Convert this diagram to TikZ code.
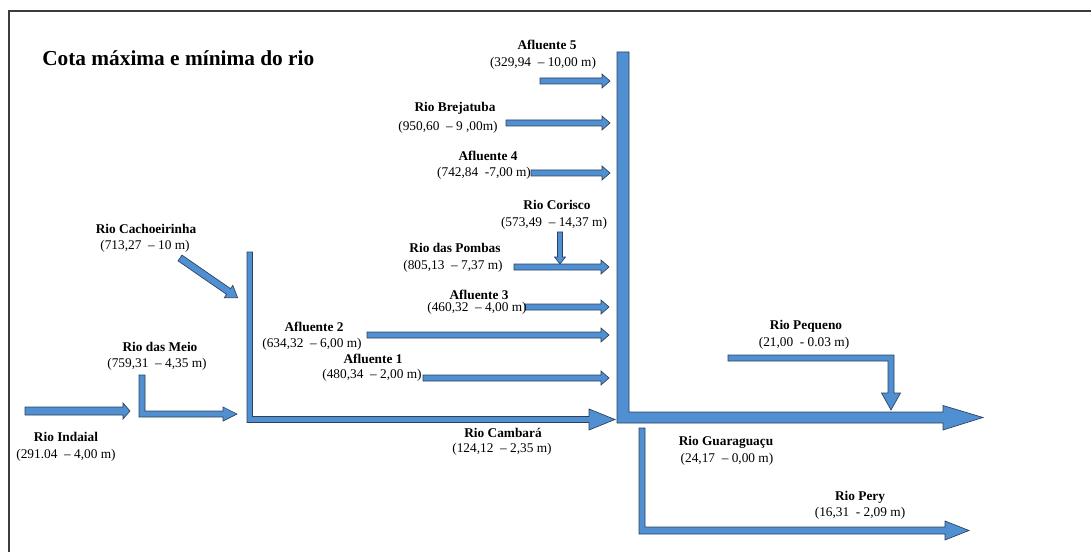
\documentclass[tikz,border=0pt]{standalone}
\usepackage{fontspec}
\setmainfont{Liberation Serif}
\definecolor{rivfill}{RGB}{79,143,210}
\definecolor{rivline}{RGB}{45,65,90}
\definecolor{framec}{RGB}{60,60,60}
\tikzset{
  riv/.style={fill=rivfill, draw=rivline, line width=0.5pt, line join=miter},
  nm/.style={font=\fontsize{10}{12}\selectfont\bfseries, inner sep=0pt},
  val/.style={font=\fontsize{10}{12}\selectfont, inner sep=0pt},
  ttl/.style={font=\fontsize{16}{19}\selectfont\bfseries, inner sep=0pt, anchor=west},
}
\newcommand{\hblock}[6]{%
  \filldraw[riv] ({#1},{#3-#4}) -- ({#2-#6},{#3-#4}) -- ({#2-#6},{#3-#5}) -- ({#2},{#3}) -- ({#2-#6},{#3+#5}) -- ({#2-#6},{#3+#4}) -- ({#1},{#3+#4}) -- cycle;}
\begin{document}
\begin{tikzpicture}[x=0.75pt,y=-0.75pt]
\useasboundingbox (0,0) rectangle (1091,552);
% frame (only left and top edges visible)
\draw[framec, line width=1.5pt] (9,552) -- (9,11) -- (1091,11);

% title
\node[ttl] (title) at (42,58) {Cota máxima e mínima do rio};

% main river (big L)
\filldraw[riv] (617,52) -- (629,52) -- (629,412) -- (943,412) -- (943,405.5) -- (983,417.5) -- (943,430) -- (943,423) -- (617,423) -- cycle;

% Rio Cambara L
\filldraw[riv] (247,252) -- (252.5,252) -- (252.5,416.5) -- (589,416.5) -- (589,409) -- (615,419.5) -- (589,430) -- (589,422.5) -- (247,422.5) -- cycle;

% Rio das Meio L
\filldraw[riv] (139,375) -- (145,375) -- (145,411) -- (223,411) -- (223,407) -- (237,414) -- (223,421) -- (223,417) -- (139,417) -- cycle;

% Rio Indaial
\hblock{25}{130}{411}{4}{8}{7}

% Rio Cachoeirinha diagonal
\begin{scope}[shift={(180,258)}, rotate=-34.6]
\hblock{0}{70}{0}{3.5}{7.5}{11}
\end{scope}

% tributaries of main river
\hblock{540}{610}{81}{3}{7}{8}
\hblock{506}{610}{123}{3}{7}{8}
\hblock{531}{610}{173}{3}{7}{8}
\hblock{514}{609}{267}{3}{7}{8}
\hblock{525}{609}{307}{3}{7}{8}
\hblock{367}{609}{335}{3}{7}{8}
\hblock{423}{609}{378}{3}{7}{8}

% Rio Corisco (down arrow)
\filldraw[riv] (557.5,232) -- (562.5,232) -- (562.5,257) -- (565.5,257) -- (560,264) -- (554.5,257) -- (557.5,257) -- cycle;

% Rio Pequeno
\filldraw[riv] (728,355) -- (894,355) -- (894,393) -- (900.5,393) -- (891,410) -- (881.5,393) -- (888,393) -- (888,361) -- (728,361) -- cycle;

% Rio Pery
\filldraw[riv] (639,428) -- (645,428) -- (645,527) -- (945,527) -- (945,521) -- (969,530.5) -- (945,540) -- (945,534) -- (639,534) -- cycle;

% labels
\node[nm]  (n-af5) at (547,45)  {Afluente 5};
\node[val] (v-af5) at (543,63)  {(329,94 \ -- 10,00 m)};
\node[nm]  (n-bre) at (455,108) {Rio Brejatuba};
\node[val] (v-bre) at (448,127) {(950,60 \ -- 9 ,00m)};
\node[nm]  (n-af4) at (488,156) {Afluente 4};
\node[val] (v-af4) at (484,173) {(742,84 \ -7,00 m)};
\node[nm]  (n-cor) at (557,205) {Rio Corisco};
\node[val] (v-cor) at (554,223) {(573,49 \ -- 14,37 m)};
\node[nm]  (n-pom) at (455,248) {Rio das Pombas};
\node[val] (v-pom) at (453,266) {(805,13 \ -- 7,37 m)};
\node[nm]  (n-af3) at (479,295) {Afluente 3};
\node[val] (v-af3) at (477,308) {(460,32 \ -- 4,00 m)};
\node[nm]  (n-af2) at (314,327) {Afluente 2};
\node[val] (v-af2) at (312,344) {(634,32 \ -- 6,00 m)};
\node[nm]  (n-af1) at (373,359) {Afluente 1};
\node[val] (v-af1) at (372,375) {(480,34 \ -- 2,00 m)};
\node[nm]  (n-cach) at (146,229) {Rio Cachoeirinha};
\node[val] (v-cach) at (145,246) {(713,27 \ -- 10 m)};
\node[nm]  (n-mei) at (160,347) {Rio das Meio};
\node[val] (v-mei) at (157,364) {(759,31 \ -- 4,35 m)};
\node[nm]  (n-ind) at (66,437)  {Rio Indaial};
\node[val] (v-ind) at (66,455)  {(291.04 \ -- 4,00 m)};
\node[nm]  (n-cam) at (503,433) {Rio Cambará};
\node[val] (v-cam) at (502,449) {(124,12 \ -- 2,35 m)};
\node[nm]  (n-peq) at (806,326) {Rio Pequeno};
\node[val] (v-peq) at (804,343) {(21,00 \ - 0.03 m)};
\node[nm]  (n-gua) at (726,442) {Rio Guaraguaçu};
\node[val] (v-gua) at (727,459) {(24,17 \ -- 0,00 m)};
\node[nm]  (n-per) at (860,497) {Rio Pery};
\node[val] (v-per) at (860,513) {(16,31 \ - 2,09 m)};
\end{tikzpicture}
\end{document}
